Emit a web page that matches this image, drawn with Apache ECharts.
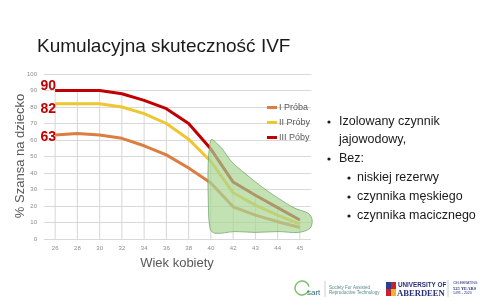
<!DOCTYPE html>
<html>
<head>
<meta charset="utf-8">
<script src="https://cdn.jsdelivr.net/npm/echarts@6/dist/echarts.min.js"></script>
<style>
html,body{margin:0;padding:0;background:#fff;}
#chart{width:480px;height:300px;}
</style>
</head>
<body>
<div id="chart"></div>
<script>
// ---- data ----
var ages = ['26','28','30','32','34','36','38','40','42','43','44','45'];
var yTicks = [0,10,20,30,40,50,60,70,80,90,100];
var seriesNames = ['I Próba','II Próby','III Póby'];
var proba1 = [63,64,63,61,56.5,51,43,34,19.5,14.5,10.5,7];
var proba2 = [82,82,82,80,76,70,60.5,47,28,20.5,14.5,9];
var proba3 = [90,90,90,88,84,79,70,54.5,34.5,26.5,19,11.5];
var startLabels = ['63','82','90'];
// hand-drawn highlight region: [category position, value]
var highlightBlob = [
  [6.96,58],[7.04,60.4],[7.26,58],[7.49,55],[7.93,46.9],[8.53,39.8],[9.28,31.7],
  [10.03,24.7],[10.78,18.6],[11.37,15.6],[11.55,11.7],[11.45,6.5],[10.93,4],
  [10.03,4.5],[8.98,4],[8.08,4.5],[7.18,3.5],[6.96,6.5],[6.88,25.6],[6.88,45.9]
];
var titleText = 'Kumulacyjna skuteczność IVF';
var yTitle = '% Szansa na dziecko';
var xTitle = 'Wiek kobiety';
var bullets = [
  {lvl:0, bullet:true, text:'Izolowany czynnik'},
  {lvl:0, bullet:false, text:'jajowodowy,'},
  {lvl:0, bullet:true, text:'Bez:'},
  {lvl:1, bullet:true, text:'niskiej rezerwy'},
  {lvl:1, bullet:true, text:'czynnika męskiego'},
  {lvl:1, bullet:true, text:'czynnika macicznego'}
];

var colors = ['#dc7d42','#f0c630','#c00000'];
var labelOffsets = [[0,2],[0,5],[0,-4.5]];
var FONT = '"Liberation Sans", Arial, sans-serif';

function withStartLabel(arr, idx){
  return arr.map(function(v,i){
    if(i!==0) return v;
    return {value:v, symbol:'circle', symbolSize:0.01,
      label:{show:true, position:'left', distance:-1, offset:labelOffsets[idx],
      formatter:startLabels[idx], color:'#c00000', fontWeight:'bold', fontSize:14, fontFamily:FONT}};
  });
}

var chart = echarts.init(document.getElementById('chart'), null, {renderer:'canvas'});

var graphics = [];
graphics.push({type:'text', left:37, top:37, style:{text:titleText, font:'19px '+FONT, fill:'#1a1a1a'}});
graphics.push({type:'text', x:20, y:156, rotation:Math.PI/2, style:{text:yTitle, font:'13px '+FONT, fill:'#595959', align:'center', verticalAlign:'middle', textAlign:'center', textVerticalAlign:'middle'}});
graphics.push({type:'text', x:177, y:263, style:{text:xTitle, font:'13px '+FONT, fill:'#595959', align:'center', verticalAlign:'middle', textAlign:'center', textVerticalAlign:'middle'}});
var by = [122,140,159,178,197,216];
bullets.forEach(function(b,i){
  var bx = b.lvl===0 ? 329 : 349;
  var tx = b.lvl===0 ? 339 : 357;
  if(b.bullet){
    graphics.push({type:'circle', shape:{cx:bx, cy:by[i], r:1.6}, style:{fill:'#1a1a1a'}});
  }
  graphics.push({type:'text', x:tx, y:by[i], style:{text:b.text, font:'12.5px '+FONT, fill:'#1a1a1a', verticalAlign:'middle', textVerticalAlign:'middle'}});
});
// logos (approximation)
graphics.push({type:'arc', shape:{cx:302, cy:288, r:7, startAngle:0.3, endAngle:Math.PI*2-0.2}, style:{stroke:'#7bbf6a', lineWidth:1.5, fill:null}});
graphics.push({type:'text', x:307, y:293, style:{text:'sart', font:'8px '+FONT, fill:'#2f6f7a', verticalAlign:'middle', textVerticalAlign:'middle'}});
graphics.push({type:'line', shape:{x1:325, y1:281, x2:325, y2:297}, style:{stroke:'#cccccc', lineWidth:1}});
graphics.push({type:'text', x:329, y:287.5, style:{text:'Society For Assisted', font:'4.5px '+FONT, fill:'#5a8a90', verticalAlign:'middle', textVerticalAlign:'middle'}});
graphics.push({type:'text', x:329, y:293, style:{text:'Reproductive Technology', font:'4.5px '+FONT, fill:'#5a8a90', verticalAlign:'middle', textVerticalAlign:'middle'}});
graphics.push({type:'rect', shape:{x:386, y:282, width:10, height:14}, style:{fill:'#c8202f'}});
graphics.push({type:'rect', shape:{x:386, y:282, width:5, height:7}, style:{fill:'#2b3f8f'}});
graphics.push({type:'rect', shape:{x:391, y:289, width:5, height:7}, style:{fill:'#e8b82a'}});
graphics.push({type:'text', x:398, y:285, style:{text:'UNIVERSITY OF', font:'bold 6.3px '+FONT, fill:'#2a2f7a', verticalAlign:'middle', textVerticalAlign:'middle'}});
graphics.push({type:'text', x:397, y:294, style:{text:'ABERDEEN', font:'bold 8.6px "Liberation Serif", serif', fill:'#2a2f7a', verticalAlign:'middle', textVerticalAlign:'middle'}});
graphics.push({type:'line', shape:{x1:448, y1:280, x2:448, y2:297}, style:{stroke:'#cccccc', lineWidth:1}});
graphics.push({type:'text', x:453, y:283, style:{text:'CELEBRATING', font:'3.5px '+FONT, fill:'#2a2f7a', verticalAlign:'middle', textVerticalAlign:'middle'}});
graphics.push({type:'text', x:453, y:288.5, style:{text:'525 YEARS', font:'bold 4.5px "Liberation Serif", serif', fill:'#2a2f7a', verticalAlign:'middle', textVerticalAlign:'middle'}});
graphics.push({type:'text', x:453, y:293.5, style:{text:'1495 - 2020', font:'3.5px '+FONT, fill:'#2a2f7a', verticalAlign:'middle', textVerticalAlign:'middle'}});

var lineSeries = [proba1, proba2, proba3].map(function(arr, i){
  return {
    name: seriesNames[i], type:'line', xAxisIndex:0, yAxisIndex:0,
    data: withStartLabel(arr, i), symbol:'none', showSymbol:true, smooth:false,
    lineStyle:{color:colors[i], width:3}, itemStyle:{color:colors[i]}, z:3
  };
});

var option = {
  animation:false,
  backgroundColor:'#ffffff',
  textStyle:{fontFamily:FONT},
  grid:{left:44, right:169, top:74, bottom:61, containLabel:false},
  legend:{
    data: seriesNames, orient:'vertical', left:262, top:98, itemGap:6,
    icon:'rect', itemWidth:10, itemHeight:3,
    textStyle:{color:'#595959', fontSize:9, fontFamily:FONT, padding:[0,0,0,-3]}
  },
  xAxis:[
    {type:'category', data:ages, boundaryGap:true,
     axisLine:{show:false}, axisTick:{show:false}, splitLine:{show:false},
     axisLabel:{fontSize:6, color:'#8c8c8c', margin:6}},
    {type:'value', min:-0.5, max:11.5, show:false}
  ],
  yAxis:[{type:'value', min:yTicks[0], max:yTicks[yTicks.length-1], interval:10,
    axisLine:{show:false}, axisTick:{show:false},
    axisLabel:{fontSize:6, color:'#8c8c8c', margin:7},
    splitLine:{lineStyle:{color:'#d9d9d9', width:1}}}],
  series: [
    {name:'drop', type:'bar', xAxisIndex:0, yAxisIndex:0, data:proba3, barWidth:1,
     itemStyle:{color:'#d6d6d6'}, z:1, silent:true}
  ].concat(lineSeries).concat([
    {name:'blob', type:'custom', xAxisIndex:1, yAxisIndex:0, data:[[0]], z:10, silent:true,
     renderItem:function(params, api){
       var pts = highlightBlob.map(function(p){ return api.coord(p); });
       return {type:'polygon', shape:{points:pts, smooth:0.35},
         style:{fill:'rgba(168,214,148,0.7)', stroke:'rgba(110,160,100,0.9)', lineWidth:0.8}};
     }}
  ]),
  graphic: graphics
};
chart.setOption(option);
</script>
</body>
</html>
